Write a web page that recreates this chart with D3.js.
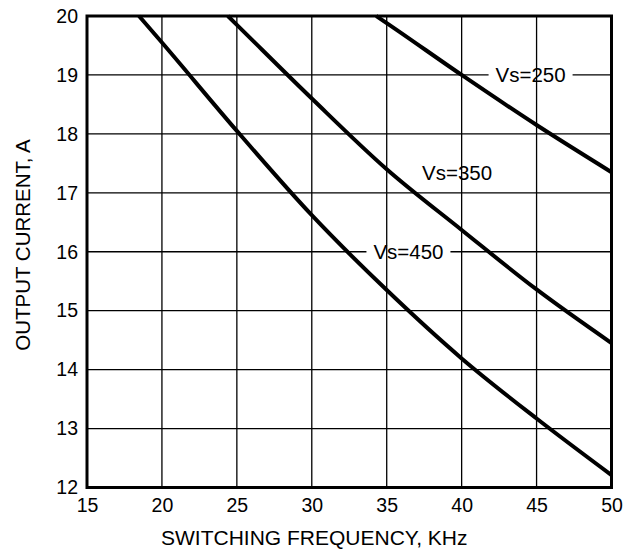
<!DOCTYPE html>
<html>
<head>
<meta charset="utf-8">
<script src="https://cdn.jsdelivr.net/npm/d3@7"></script>
<style>
  body { margin: 0; background: #fff; }
  text { font-family: "Liberation Sans", Arial, Helvetica, sans-serif; fill: #000; }
</style>
</head>
<body>
<svg id="chart" width="631" height="550"></svg>
<script>
    // values
    var xTicks = [15, 20, 25, 30, 35, 40, 45, 50];
    var yTicks = [12, 13, 14, 15, 16, 17, 18, 19, 20];

    var freq250 = [34.3, 35, 40, 45, 50];
    var amps250 = [20, 19.88, 19.0, 18.15, 17.35];

    var freq350 = [24.4, 25, 30, 35, 40, 45, 50];
    var amps350 = [20, 19.85, 18.6, 17.4, 16.37, 15.36, 14.45];

    var freq450 = [18.47, 20, 25, 30, 35, 40, 45, 50];
    var amps450 = [20, 19.55, 18.05, 16.62, 15.35, 14.19, 13.17, 12.21];

    var seriesNames = ['Vs=250', 'Vs=350', 'Vs=450'];

    var margin = {top: 16, right: 19.5, bottom: 62.5, left: 87};
    var width = 631 - margin.left - margin.right;
    var height = 550 - margin.top - margin.bottom;

    var svg = d3.select('#chart');
    var g = svg.append('g')
        .attr('transform', 'translate(' + margin.left + ',' + margin.top + ')');

    var x = d3.scaleLinear().domain([15, 50]).range([0, width]);
    var y = d3.scaleLinear().domain([12, 20]).range([height, 0]);

    function zip(fs, as) {
        return fs.map(function (f, i) { return {f: f, a: as[i]}; });
    }

    var series = [
        {name: seriesNames[0], values: zip(freq250, amps250), label: {f: 44.6, a: 19}, box: true},
        {name: seriesNames[1], values: zip(freq350, amps350), label: {f: 39.7, a: 17.35}, box: false},
        {name: seriesNames[2], values: zip(freq450, amps450), label: {f: 36.45, a: 16}, box: true}
    ];

    // horizontal grid
    g.append('g')
        .attr('class', 'grid-h')
        .selectAll('line')
        .data(yTicks.slice(1, -1))
        .enter()
        .append('line')
        .attr('x1', 0).attr('x2', width)
        .attr('y1', function (d) { return y(d); })
        .attr('y2', function (d) { return y(d); })
        .attr('stroke', '#000')
        .attr('stroke-width', 1.3);

    // white boxes that break the horizontal grid behind labels
    g.selectAll('.lbl-box')
        .data(series.filter(function (s) { return s.box; }))
        .enter()
        .append('rect')
        .attr('class', 'lbl-box')
        .attr('x', function (d) { return x(d.label.f) - 42; })
        .attr('y', function (d) { return y(d.label.a) - 4; })
        .attr('width', 84)
        .attr('height', 8)
        .attr('fill', '#fff');

    // vertical grid
    g.append('g')
        .attr('class', 'grid-v')
        .selectAll('line')
        .data(xTicks.slice(1, -1))
        .enter()
        .append('line')
        .attr('y1', 0).attr('y2', height)
        .attr('x1', function (d) { return x(d); })
        .attr('x2', function (d) { return x(d); })
        .attr('stroke', '#000')
        .attr('stroke-width', 1.3);

    // curve labels
    g.selectAll('.lbl')
        .data(series)
        .enter()
        .append('text')
        .attr('class', 'lbl')
        .attr('x', function (d) { return x(d.label.f); })
        .attr('y', function (d) { return y(d.label.a); })
        .attr('dy', '0.36em')
        .style('text-anchor', 'middle')
        .style('font-size', '20.5px')
        .text(function (d) { return d.name; });

    var line = d3.line()
        .x(function (d) { return x(d.f); })
        .y(function (d) { return y(d.a); })
        .curve(d3.curveMonotoneX);

    g.selectAll('.curve')
        .data(series)
        .enter()
        .append('path')
        .attr('class', 'curve')
        .attr('d', function (d) { return line(d.values); })
        .attr('fill', 'none')
        .attr('stroke', '#000')
        .attr('stroke-width', 4);

    // frame
    g.append('rect')
        .attr('width', width)
        .attr('height', height)
        .attr('fill', 'none')
        .attr('stroke', '#000')
        .attr('stroke-width', 3);

    // axes (labels only, the frame and grid do the lines)
    var xAxis = g.append('g')
        .attr('transform', 'translate(0,' + height + ')')
        .call(d3.axisBottom(x).tickValues(xTicks).tickSize(0).tickPadding(11));
    var yAxis = g.append('g')
        .call(d3.axisLeft(y).tickValues(yTicks).tickSize(0).tickPadding(9));

    [xAxis, yAxis].forEach(function (a) {
        a.select('.domain').remove();
        a.selectAll('text')
            .attr('fill', '#000')
            .style('font-size', '19.5px')
            .style('font-family', '"Liberation Sans", Arial, sans-serif');
    });

    svg.append('text')
        .attr('x', margin.left + width / 2 - 35)
        .attr('y', 537)
        .attr('dy', '0.36em')
        .style('text-anchor', 'middle')
        .style('font-size', '21px')
        .text('SWITCHING FREQUENCY, KHz');

    svg.append('text')
        .attr('transform', 'translate(23,245) rotate(-90)')
        .attr('dy', '0.36em')
        .style('text-anchor', 'middle')
        .style('font-size', '20.5px')
        .text('OUTPUT CURRENT, A');
</script>
</body>
</html>
